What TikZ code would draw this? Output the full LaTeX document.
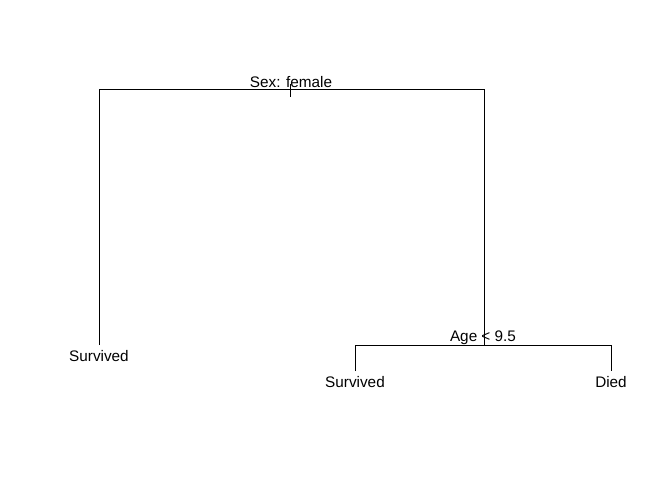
\documentclass[tikz,border=0pt]{standalone}
\usepackage{fontspec}
\setmainfont{Liberation Sans}
\begin{document}
\begin{tikzpicture}[x=1pt,y=-1pt,
  lab/.style={anchor=base,inner sep=0pt,font=\fontsize{15.3}{16}\selectfont},
  edge/.style={draw=black,line width=0.8pt}]
\useasboundingbox (0,0) rectangle (672,480);
% corners
\coordinate (rl) at (99,89);
\coordinate (rr) at (484,89);
\coordinate (l1) at (99,345);
\coordinate (r1) at (484,345);
\coordinate (al) at (355,345);
\coordinate (ar) at (611,345);
\coordinate (a1) at (355,371);
\coordinate (a2) at (611,371);
\coordinate (t1) at (290,84);
\coordinate (t2) at (290,97);
% tree
\draw[edge] (l1) -- (rl) -- (rr) -- (r1);
\draw[edge] (a1) -- (al) -- (ar) -- (a2);
\draw[edge] (t1) -- (t2);
% labels
\node[lab] (s) at (291,87) {Sex: female};
\node[lab] (a) at (483,341) {Age < 9.5};
\node[lab] (sv1) at (99,361) {Survived};
\node[lab] (sv2) at (355,387) {Survived};
\node[lab] (d) at (611,387) {Died};
\end{tikzpicture}
\end{document}
